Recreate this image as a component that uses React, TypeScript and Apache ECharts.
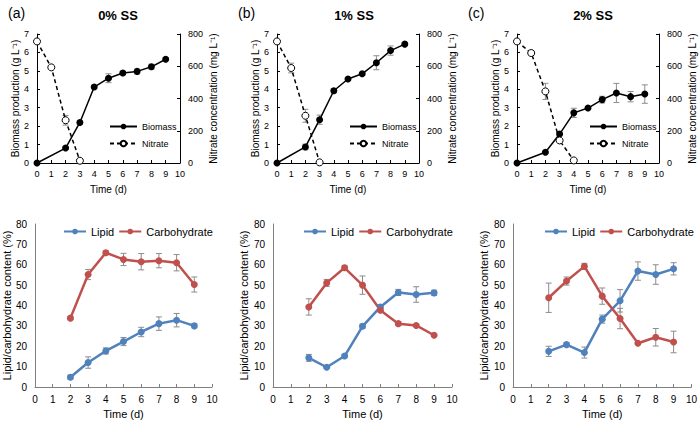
import React, { useEffect, useRef } from "react";
import * as echarts from "echarts";

// ---- Data ----
const panelLabels = ["(a)", "(b)", "(c)"];
const panelTitles = ["0% SS", "1% SS", "2% SS"];

const biomassDays = [0, 2, 3, 4, 5, 6, 7, 8, 9];
const biomassA = [0, 0.81, 2.2, 4.12, 4.6, 4.88, 4.97, 5.22, 5.63];
const biomassErrA = [0, 0.06, 0.1, 0.1, 0.24, 0.1, 0.14, 0.14, 0.07];
const biomassB = [0, 0.87, 2.35, 3.92, 4.56, 4.84, 5.44, 6.1, 6.45];
const biomassErrB = [0, 0.15, 0.25, 0.12, 0.05, 0.08, 0.38, 0.25, 0.05];
const biomassC = [0, 0.58, 1.57, 2.72, 2.98, 3.44, 3.8, 3.6, 3.74];
const biomassErrC = [0, 0.05, 0.1, 0.25, 0.08, 0.18, 0.52, 0.28, 0.5];

const nitrateDaysA = [0, 1, 2, 3];
const nitrateA = [754, 593, 265, 14];
const nitrateErrA = [0, 8, 30, 0];
const nitrateDaysB = [0, 1, 2, 3];
const nitrateB = [754, 589, 293, 4];
const nitrateErrB = [0, 30, 40, 0];
const nitrateDaysC = [0, 1, 2, 3, 4];
const nitrateC = [754, 682, 444, 140, 16];
const nitrateErrC = [0, 15, 50, 12, 0];

const compDays = [2, 3, 4, 5, 6, 7, 8, 9];
const lipidA = [4.8, 12, 17.7, 22.3, 27, 31.1, 32.8, 30];
const lipidErrA = [1, 2.8, 1.5, 2, 2.3, 3.3, 3.3, 1];
const carbA = [33.8, 55.2, 65.9, 62.6, 61.5, 62, 61, 50.3];
const carbErrA = [0.8, 2.5, 1, 3, 4, 3.5, 4, 3.7];
const lipidB = [14.3, 9.7, 15.2, 29.8, 39.3, 46.4, 45.4, 46.2];
const lipidErrB = [1.7, 0.5, 0.8, 1, 1, 1.5, 3.8, 1.3];
const carbB = [39.3, 51.1, 58.5, 50, 37.7, 31.1, 30.2, 25.4];
const carbErrB = [4, 1.7, 1.2, 4.5, 0.8, 1, 0.5, 0.5];
const lipidC = [17.5, 20.8, 16.9, 33.3, 42.3, 56.9, 55.2, 58];
const lipidErrC = [2.5, 1, 2.7, 2, 5.5, 4.5, 4.8, 3];
const carbC = [43.8, 52, 59.2, 44.6, 33.6, 21.5, 24.4, 22.1];
const carbErrC = [7.2, 2, 1.5, 4, 5, 0.5, 4.3, 5.3];

// ---- Layout ----
const FONT = "Liberation Sans";
const topGrids = [
  { left: 37, width: 143 },
  { left: 277, width: 142 },
  { left: 517, width: 142 },
];
const botGrids = [
  { left: 32, width: 180 },
  { left: 273, width: 179 },
  { left: 513, width: 179 },
];
const titleX = [113, 349, 588];
const labelX = [3, 233, 463];
const topLegendX = [109, 349, 589];
const botLegendX = [63, 303, 544];

const BLUE = "#4f81bd";
const RED = "#c0504d";
const ERR = "#8c8c8c";

function pairs(xs: number[], ys: number[]) {
  return xs.map((x, i) => [x, ys[i]]);
}
function errs(xs: number[], ys: number[], es: number[]) {
  return xs.map((x, i) => [x, ys[i] - es[i], ys[i] + es[i]]);
}

function errorSeries(data: number[][], xi: number, yi: number) {
  return {
    type: "custom",
    xAxisIndex: xi,
    yAxisIndex: yi,
    z: 2,
    silent: true,
    data,
    encode: { x: 0, y: [1, 2] },
    renderItem: (params: any, api: any) => {
      const x = api.value(0);
      const lo = api.value(1);
      const hi = api.value(2);
      if (hi - lo <= 0) return { type: "group", children: [] };
      const p1 = api.coord([x, hi]);
      const p2 = api.coord([x, lo]);
      const w = 3;
      const st = { stroke: ERR, lineWidth: 1 };
      return {
        type: "group",
        children: [
          { type: "line", shape: { x1: p1[0], y1: p1[1], x2: p2[0], y2: p2[1] }, style: st },
          { type: "line", shape: { x1: p1[0] - w, y1: p1[1], x2: p1[0] + w, y2: p1[1] }, style: st },
          { type: "line", shape: { x1: p2[0] - w, y1: p2[1], x2: p2[0] + w, y2: p2[1] }, style: st },
        ],
      };
    },
  };
}

export default function App() {
  const ref = useRef<HTMLDivElement>(null);
  useEffect(() => {
    if (!ref.current) return;
    const chart = echarts.init(ref.current, undefined, { renderer: "svg" });

    const biomass = [biomassA, biomassB, biomassC];
    const biomassErr = [biomassErrA, biomassErrB, biomassErrC];
    const nDays = [nitrateDaysA, nitrateDaysB, nitrateDaysC];
    const nitrate = [nitrateA, nitrateB, nitrateC];
    const nitrateErr = [nitrateErrA, nitrateErrB, nitrateErrC];
    const lipid = [lipidA, lipidB, lipidC];
    const lipidErr = [lipidErrA, lipidErrB, lipidErrC];
    const carb = [carbA, carbB, carbC];
    const carbErr = [carbErrA, carbErrB, carbErrC];

    const grid: any[] = [];
    const xAxis: any[] = [];
    const yAxis: any[] = [];
    const series: any[] = [];
    const legend: any[] = [];
    const title: any[] = [];

    const topTick = { fontFamily: FONT, fontSize: 9, color: "#000" };
    const botTick = { fontFamily: FONT, fontSize: 10, color: "#000" };
    const topName = { fontFamily: FONT, fontSize: 10, color: "#000" };
    const botName = { fontFamily: FONT, fontSize: 11, color: "#000" };

    for (let p = 0; p < 3; p++) {
      title.push({
        text: panelLabels[p],
        left: labelX[p],
        top: 1,
        textStyle: { fontFamily: FONT, fontSize: 14, fontWeight: "normal", color: "#000" },
      });
      title.push({
        text: panelTitles[p],
        left: titleX[p],
        top: 4,
        textAlign: "center",
        textStyle: { fontFamily: FONT, fontSize: 13, fontWeight: "bold", color: "#000" },
      });

      // Top grid
      const tg = grid.length;
      grid.push({ left: topGrids[p].left, width: topGrids[p].width, top: 34, height: 129 });
      const txi = xAxis.length;
      xAxis.push({
        type: "value",
        gridIndex: tg,
        min: 0,
        max: 10,
        interval: 1,
        name: "Time (d)",
        nameLocation: "middle",
        nameGap: 21,
        nameTextStyle: topName,
        axisLine: { lineStyle: { color: "#000", width: 1 } },
        axisTick: { inside: true, length: 3, lineStyle: { color: "#000" } },
        axisLabel: { ...topTick, margin: 6 },
        splitLine: { show: false },
      });
      const tyl = yAxis.length;
      yAxis.push({
        type: "value",
        gridIndex: tg,
        min: 0,
        max: 7,
        interval: 1,
        name: "Biomass production (g L⁻¹)",
        nameLocation: "middle",
        nameGap: 15,
        nameRotate: 90,
        nameTextStyle: topName,
        axisLine: { show: true, lineStyle: { color: "#000", width: 1 } },
        axisTick: { show: true, inside: true, length: 3, lineStyle: { color: "#000" } },
        axisLabel: { ...topTick, margin: 8 },
        splitLine: { show: false },
      });
      const tyr = yAxis.length;
      yAxis.push({
        type: "value",
        gridIndex: tg,
        position: "right",
        min: 0,
        max: 800,
        interval: 200,
        name: "Nitrate concentration (mg L⁻¹)",
        nameLocation: "middle",
        nameGap: 28,
        nameRotate: 90,
        nameTextStyle: topName,
        axisLine: { show: true, lineStyle: { color: "#000", width: 1 } },
        axisTick: { show: true, inside: true, length: 3, lineStyle: { color: "#000" } },
        axisLabel: { ...topTick, margin: 8, align: "left" },
        splitLine: { show: false },
      });

      series.push({
        type: "line",
        name: "Biomass",
        xAxisIndex: txi,
        yAxisIndex: tyl,
        data: pairs(biomassDays, biomass[p]),
        symbol: "circle",
        symbolSize: 7,
        lineStyle: { color: "#000", width: 1.5 },
        itemStyle: { color: "#000" },
        z: 3,
      });
      series.push({
        type: "line",
        name: "Nitrate",
        xAxisIndex: txi,
        yAxisIndex: tyr,
        data: pairs(nDays[p], nitrate[p]),
        symbol: "circle",
        symbolSize: 7,
        lineStyle: { color: "#000", width: 1.5, type: [4, 3] },
        itemStyle: { color: "#fff", borderColor: "#000", borderWidth: 1 },
        z: 3,
      });
      series.push(errorSeries(errs(biomassDays, biomass[p], biomassErr[p]), txi, tyl));
      series.push(errorSeries(errs(nDays[p], nitrate[p], nitrateErr[p]), txi, tyr));

      legend.push({
        data: ["Biomass", "Nitrate"],
        orient: "vertical",
        left: topLegendX[p],
        top: 122,
        padding: 0,
        width: 80,
        itemWidth: 27,
        itemHeight: 7,
        itemGap: 8,
        textStyle: { fontFamily: FONT, fontSize: 9, color: "#000" },
        selectedMode: false,
      });

      // Bottom grid
      const bg = grid.length;
      grid.push({ left: botGrids[p].left, width: botGrids[p].width, top: 224, height: 163 });
      const bxi = xAxis.length;
      xAxis.push({
        type: "value",
        gridIndex: bg,
        min: 0,
        max: 10,
        interval: 1,
        name: "Time (d)",
        nameLocation: "middle",
        nameGap: 21,
        nameTextStyle: botName,
        axisLine: { lineStyle: { color: "#808080", width: 1 } },
        axisTick: { inside: true, length: 3, lineStyle: { color: "#808080" } },
        axisLabel: { ...botTick, margin: 7 },
        splitLine: { show: false },
      });
      const byi = yAxis.length;
      yAxis.push({
        type: "value",
        gridIndex: bg,
        min: 0,
        max: 80,
        interval: 10,
        name: "Lipid/carbohydrate content (%)",
        nameLocation: "middle",
        nameGap: 17,
        nameRotate: 90,
        nameTextStyle: botName,
        axisLine: { show: true, lineStyle: { color: "#808080", width: 1 } },
        axisTick: { show: false },
        axisLabel: { ...botTick, margin: 8 },
        splitLine: { show: false },
      });
      series.push({
        type: "line",
        name: "Lipid",
        xAxisIndex: bxi,
        yAxisIndex: byi,
        data: pairs(compDays, lipid[p]),
        symbol: "circle",
        symbolSize: 7,
        lineStyle: { color: BLUE, width: 2.5 },
        itemStyle: { color: BLUE },
        z: 3,
      });
      series.push({
        type: "line",
        name: "Carbohydrate",
        xAxisIndex: bxi,
        yAxisIndex: byi,
        data: pairs(compDays, carb[p]),
        symbol: "circle",
        symbolSize: 7,
        lineStyle: { color: RED, width: 2.5 },
        itemStyle: { color: RED },
        z: 3,
      });
      series.push(errorSeries(errs(compDays, lipid[p], lipidErr[p]), bxi, byi));
      series.push(errorSeries(errs(compDays, carb[p], carbErr[p]), bxi, byi));

      legend.push({
        data: ["Lipid", "Carbohydrate"],
        orient: "horizontal",
        left: botLegendX[p],
        top: 226,
        padding: 0,
        width: 200,
        itemWidth: 22,
        itemHeight: 7,
        itemGap: 4,
        textStyle: { fontFamily: FONT, fontSize: 11, color: "#000" },
        selectedMode: false,
      });
    }

    chart.setOption({
      animation: false,
      backgroundColor: "#fff",
      textStyle: { fontFamily: FONT },
      title,
      legend,
      grid,
      xAxis,
      yAxis,
      series,
    });
    return () => chart.dispose();
  }, []);

  return <div ref={ref} style={{ width: 700, height: 421, position: "absolute", left: 0, top: 0 }} />;
}
